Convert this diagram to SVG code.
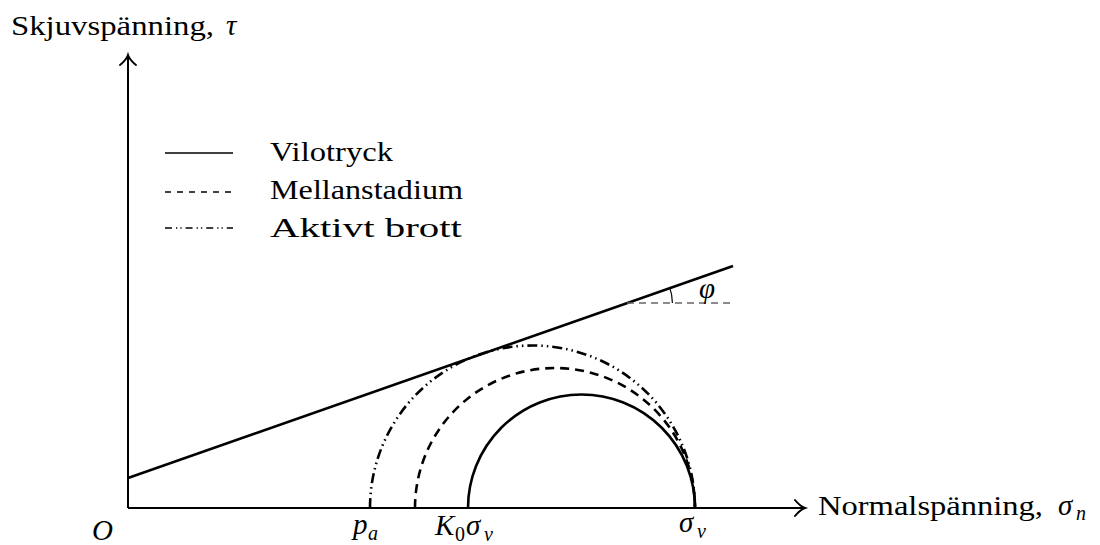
<svg xmlns="http://www.w3.org/2000/svg" width="1100" height="545" viewBox="0 0 1100 545">
  <style>
    .t { font-family: "Liberation Serif", "Times New Roman", serif; font-size: 28px; fill: #000; }
    .m { font-family: "Liberation Serif", "Times New Roman", serif; font-size: 29px; font-style: italic; fill: #000; }
    .sub { font-family: "Liberation Serif", "Times New Roman", serif; font-size: 20px; font-style: italic; fill: #000; }
    .subr { font-family: "Liberation Serif", "Times New Roman", serif; font-size: 20px; fill: #000; }
    .axis { stroke: #000; stroke-width: 2; fill: none; }
    .solid { stroke: #000; stroke-width: 2.6; fill: none; }
    .dashed { stroke: #000; stroke-width: 2.6; fill: none; stroke-dasharray: 9 6; }
    .dashdot { stroke: #000; stroke-width: 2.6; fill: none; stroke-dasharray: 10 4 1.5 4 1.5 4; }
    .lsolid { stroke: #000; stroke-width: 1.3; fill: none; }
    .ldashed { stroke: #000; stroke-width: 1.3; fill: none; stroke-dasharray: 6 6; }
    .ldashdot { stroke: #000; stroke-width: 1.3; fill: none; stroke-dasharray: 7 4 1.3 3 1.3 4; }
    .helper { stroke: #666; stroke-width: 1.3; fill: none; stroke-dasharray: 7 5; }
    .thin { stroke: #000; stroke-width: 1.2; fill: none; }
  </style>
  <defs>
    <marker id="arrow" markerUnits="userSpaceOnUse" markerWidth="24" markerHeight="24" refX="0" refY="0" orient="auto" overflow="visible">
      <path d="M -9,-8 C -5,-3 -2,-1 1,0 C -2,1 -5,3 -9,8" fill="none" stroke="#000" stroke-width="2" stroke-linecap="round"/>
    </marker>
  </defs>

  <rect width="1100" height="545" fill="#fff"/>

  <g id="connectors">
    <path id="y-axis" class="axis" d="M 128,508 L 128,56" marker-end="url(#arrow)"/>
    <path id="x-axis" class="axis" d="M 128,508 L 804,508" marker-end="url(#arrow)"/>
    <path id="failure-line" class="solid" stroke-width="2.2" d="M 128,478 L 733,266"/>
    <path id="phi-ref" class="helper" d="M 627,303 L 733,303"/>
    <path id="phi-arc" class="thin" d="M 672.4,303 A 45 45 0 0 0 669.9,288.1"/>
  </g>

  <g id="circle-vilotryck">
    <path class="solid" d="M 468,508 A 113.5 113.5 0 0 1 695,508"/>
  </g>
  <g id="circle-mellanstadium">
    <path class="dashed" d="M 415,508 A 140 140 0 0 1 695,508"/>
  </g>
  <g id="circle-aktivt">
    <path class="dashdot" d="M 370,508 A 162.5 162.5 0 0 1 695,508"/>
  </g>

  <g id="legend">
    <path class="lsolid" d="M 165,153 L 233,153"/>
    <path class="ldashed" d="M 165,192 L 233,192"/>
    <path class="ldashdot" d="M 165,228 L 233,228"/>
    <text class="t" x="270" y="161" textLength="123" lengthAdjust="spacingAndGlyphs">Vilotryck</text>
    <text class="t" x="270" y="199" textLength="193" lengthAdjust="spacingAndGlyphs">Mellanstadium</text>
    <text class="t" x="270" y="237" textLength="192" lengthAdjust="spacingAndGlyphs">Aktivt brott</text>
  </g>

  <g id="y-label">
    <text class="t" x="11" y="35" textLength="203" lengthAdjust="spacingAndGlyphs">Skjuvspänning,</text>
    <text class="m" x="226" y="35">τ</text>
  </g>
  <g id="x-label">
    <text class="t" x="818" y="515" textLength="225" lengthAdjust="spacingAndGlyphs">Normalspänning,</text>
    <text class="m" x="1058" y="515">σ</text>
    <text class="sub" x="1076" y="520">n</text>
  </g>

  <g id="phi-label">
    <text class="m" x="699" y="298">φ</text>
  </g>

  <g id="tick-labels">
    <text class="m" x="92" y="540">O</text>
    <text class="m" x="353" y="534">p</text>
    <text class="sub" x="368" y="540">a</text>
    <text class="m" x="435" y="535">K</text>
    <text class="subr" x="455" y="541">0</text>
    <text class="m" x="466" y="535">σ</text>
    <text class="sub" x="484" y="541">v</text>
    <text class="m" x="679" y="532">σ</text>
    <text class="sub" x="697" y="538">v</text>
  </g>
</svg>
